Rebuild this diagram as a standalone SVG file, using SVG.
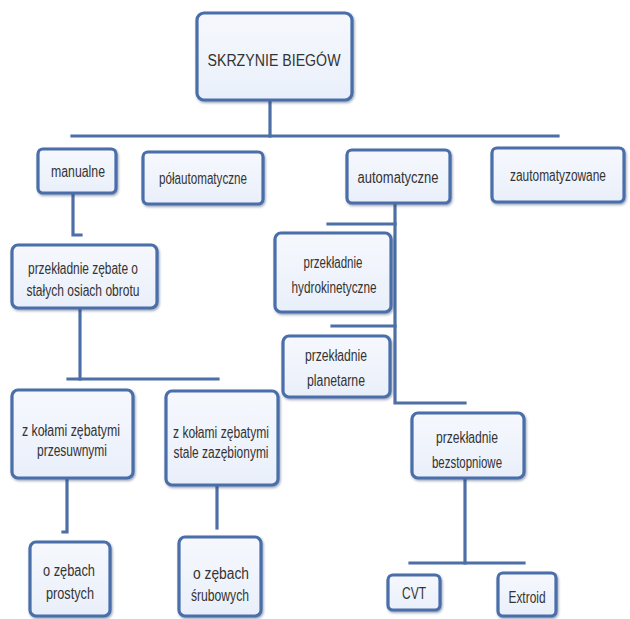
<svg xmlns="http://www.w3.org/2000/svg" width="630" height="619" viewBox="0 0 630 619">
<defs>
<style>
.box{fill:url(#bg);stroke:#4a6ea9;stroke-width:3.2;filter:url(#sh)}
.t{font-family:"Liberation Sans",Arial,sans-serif;font-size:16px;fill:#333333;text-anchor:middle}
.c{fill:none;stroke:#4d6fa7;stroke-width:3.2;stroke-linecap:square}
</style>
<linearGradient id="bg" x1="0" y1="0" x2="0" y2="1">
<stop offset="0" stop-color="#f6f8fd"/>
<stop offset="1" stop-color="#e9effa"/>
</linearGradient>
<filter id="sh" x="-10%" y="-10%" width="130%" height="130%">
<feDropShadow dx="1" dy="1.5" stdDeviation="1" flood-color="#203860" flood-opacity="0.45"/>
</filter>
</defs>
<rect width="630" height="619" fill="#ffffff"/>
<g id="connectors">
<path class="c" d="M270 100 V136"/>
<path class="c" d="M72 136 H558"/>
<path class="c" d="M73 193 V235 H81"/>
<path class="c" d="M80 308 V379"/>
<path class="c" d="M68 379 H218"/>
<path class="c" d="M67 478 V532 H63"/>
<path class="c" d="M217 485 V528"/>
<path class="c" d="M395 203 V403 H465"/>
<path class="c" d="M328 224 H395"/>
<path class="c" d="M332 326 H395"/>
<path class="c" d="M465 478 V563"/>
<path class="c" d="M410 563 H524"/>
</g>
<g id="root">
<rect class="box" x="197" y="13" width="155" height="87" rx="7"/>
<text class="t" x="274" y="66" font-size="21" textLength="133" lengthAdjust="spacingAndGlyphs">SKRZYNIE BIEGÓW</text>
</g>
<g id="manualne">
<rect class="box" x="38" y="149" width="78" height="44" rx="5"/>
<text class="t" x="78" y="177" textLength="54" lengthAdjust="spacingAndGlyphs">manualne</text>
</g>
<g id="polautomatyczne">
<rect class="box" x="143" y="152" width="120" height="52" rx="5"/>
<text class="t" x="203" y="184" textLength="88" lengthAdjust="spacingAndGlyphs">półautomatyczne</text>
</g>
<g id="automatyczne">
<rect class="box" x="347" y="150" width="103" height="53" rx="5"/>
<text class="t" x="398" y="183" textLength="81" lengthAdjust="spacingAndGlyphs">automatyczne</text>
</g>
<g id="zautomatyzowane">
<rect class="box" x="492" y="148" width="132" height="54" rx="5"/>
<text class="t" x="558" y="181" font-size="14" textLength="96" lengthAdjust="spacingAndGlyphs">zautomatyzowane</text>
</g>
<g id="przekladnie-zebate">
<rect class="box" x="12" y="245" width="145" height="63" rx="6"/>
<text class="t" x="83" y="274" textLength="110" lengthAdjust="spacingAndGlyphs">przekładnie zębate o</text>
<text class="t" x="83" y="296" textLength="113" lengthAdjust="spacingAndGlyphs">stałych osiach obrotu</text>
</g>
<g id="hydrokinetyczne">
<rect class="box" x="275" y="233" width="116" height="79" rx="6"/>
<text class="t" x="333" y="268" textLength="59" lengthAdjust="spacingAndGlyphs">przekładnie</text>
<text class="t" x="334" y="293" textLength="85" lengthAdjust="spacingAndGlyphs">hydrokinetyczne</text>
</g>
<g id="planetarne">
<rect class="box" x="283" y="336" width="107" height="61" rx="6"/>
<text class="t" x="336" y="361" textLength="62" lengthAdjust="spacingAndGlyphs">przekładnie</text>
<text class="t" x="336" y="386" textLength="58" lengthAdjust="spacingAndGlyphs">planetarne</text>
</g>
<g id="przesuwnymi">
<rect class="box" x="12" y="390" width="121" height="88" rx="6"/>
<text class="t" x="71" y="436" textLength="98" lengthAdjust="spacingAndGlyphs">z kołami  zębatymi</text>
<text class="t" x="72" y="456" textLength="70" lengthAdjust="spacingAndGlyphs">przesuwnymi</text>
</g>
<g id="zazebionymi">
<rect class="box" x="166" y="391" width="112" height="94" rx="6"/>
<text class="t" x="221" y="438" textLength="96" lengthAdjust="spacingAndGlyphs">z kołami zębatymi</text>
<text class="t" x="221" y="458" textLength="95" lengthAdjust="spacingAndGlyphs">stale zazębionymi</text>
</g>
<g id="bezstopniowe">
<rect class="box" x="412" y="413" width="112" height="65" rx="6"/>
<text class="t" x="467" y="443" textLength="62" lengthAdjust="spacingAndGlyphs">przekładnie</text>
<text class="t" x="467" y="468" textLength="70" lengthAdjust="spacingAndGlyphs">bezstopniowe</text>
</g>
<g id="prostych">
<rect class="box" x="30" y="542" width="80" height="74" rx="6"/>
<text class="t" x="69" y="576" textLength="52" lengthAdjust="spacingAndGlyphs">o zębach</text>
<text class="t" x="70" y="599" textLength="48" lengthAdjust="spacingAndGlyphs">prostych</text>
</g>
<g id="srubowych">
<rect class="box" x="179" y="537" width="82" height="79" rx="6"/>
<text class="t" x="221" y="579" textLength="56" lengthAdjust="spacingAndGlyphs">o zębach</text>
<text class="t" x="220" y="601" textLength="58" lengthAdjust="spacingAndGlyphs">śrubowych</text>
</g>
<g id="cvt">
<rect class="box" x="388" y="575" width="52" height="35" rx="5"/>
<text class="t" x="414" y="599" textLength="24" lengthAdjust="spacingAndGlyphs">CVT</text>
</g>
<g id="extroid">
<rect class="box" x="498" y="573" width="58" height="43" rx="5"/>
<text class="t" x="527" y="603" textLength="37" lengthAdjust="spacingAndGlyphs">Extroid</text>
</g>
</svg>
